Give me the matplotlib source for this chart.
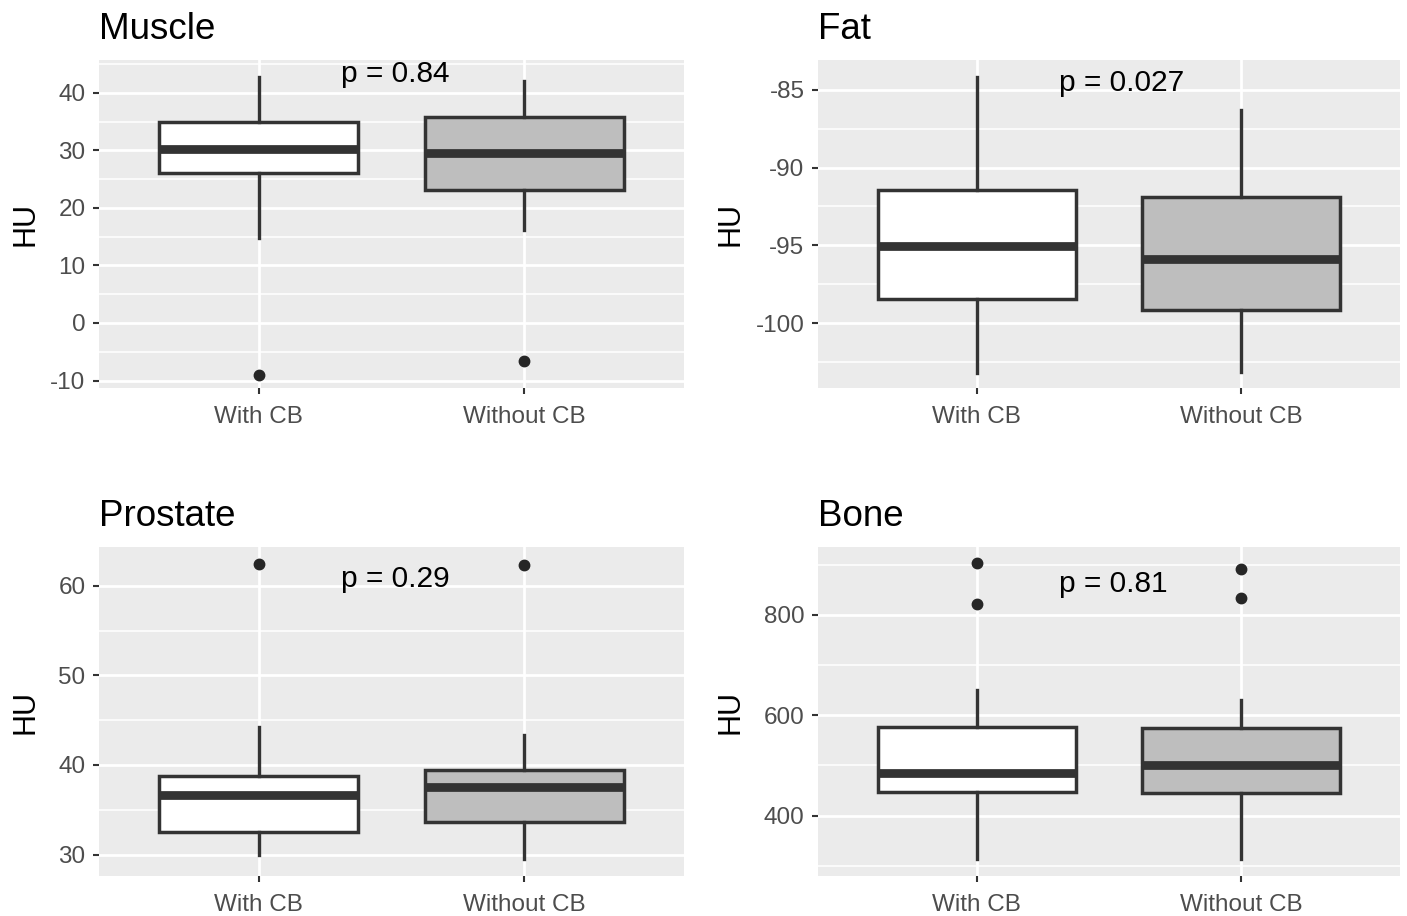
import matplotlib
matplotlib.use("Agg")
import matplotlib.pyplot as plt
from matplotlib.ticker import MultipleLocator

plt.rcParams["font.family"] = ["Liberation Sans", "DejaVu Sans"]
plt.rcParams["axes.unicode_minus"] = False

# Groups compared in every panel
groups = ["With CB", "Without CB"]
fills = ["#FFFFFF", "#BEBEBE"]

# Panel titles and p-values from the group comparison
tissues = ["Muscle", "Fat", "Prostate", "Bone"]
p_labels = ["p = 0.84", "p = 0.027", "p = 0.29", "p = 0.81"]
p_label_y = [41.9, -85.1, 59.9, 846]

# Box-plot summaries (HU), one pair of values per tissue: [With CB, Without CB]
whisker_low = [[14.7, 16.2], [-103.2, -103.1], [29.9, 29.5], [313, 313]]
quartile_1 = [[26.0, 23.1], [-98.45, -99.15], [32.5, 33.6], [448, 445]]
median = [[30.2, 29.5], [-95.05, -95.9], [36.6, 37.5], [485, 500]]
quartile_3 = [[34.9, 35.8], [-91.45, -91.9], [38.8, 39.4], [577, 574]]
whisker_high = [[42.8, 42.1], [-84.2, -86.3], [44.2, 43.4], [650, 630]]
outliers = [[[-9.0], [-6.6]], [[], []], [[62.5], [62.3]], [[904, 821], [891, 833]]]

# Axis ranges and tick spacing
y_limits = [(-11.3, 45.7), (-104.15, -83.1), (27.6, 64.35), (279.7, 935.5)]
major_step = [10, 5, 10, 200]

W, H = 1407, 916
fig = plt.figure(figsize=(W / 100, H / 100), dpi=100)

# Panel rectangles in pixels: left, top, right, bottom
rects = [(99, 60, 684, 388), (818, 60, 1400, 388),
         (99, 547, 684, 876), (818, 547, 1400, 876)]
ylabel_x = [-0.1, -0.125, -0.1, -0.125]

dark = "#333333"
for i, name in enumerate(tissues):
    l, t, r, b = rects[i]
    ax = fig.add_axes([l / W, 1 - b / H, (r - l) / W, (b - t) / H])
    ax.set_facecolor("#EBEBEB")
    for s in ax.spines.values():
        s.set_visible(False)

    stats = []
    for g in range(2):
        stats.append(dict(label=groups[g],
                          whislo=whisker_low[i][g], q1=quartile_1[i][g],
                          med=median[i][g], q3=quartile_3[i][g],
                          whishi=whisker_high[i][g], fliers=outliers[i][g]))
    bp = ax.bxp(stats, positions=[1, 2], widths=0.75, patch_artist=True,
                showcaps=False,
                boxprops=dict(edgecolor=dark, linewidth=2.5),
                whiskerprops=dict(color=dark, linewidth=2.4),
                medianprops=dict(color=dark, linewidth=6.3, solid_capstyle="butt"),
                flierprops=dict(marker="o", markerfacecolor="#262626",
                                markeredgecolor="#262626", markersize=7.5),
                zorder=3)
    for patch, fc in zip(bp["boxes"], fills):
        patch.set_facecolor(fc)

    ax.set_xlim(0.4, 2.6)
    ax.set_ylim(*y_limits[i])
    ax.yaxis.set_major_locator(MultipleLocator(major_step[i]))
    ax.yaxis.set_minor_locator(MultipleLocator(major_step[i] / 2))
    ax.set_axisbelow(True)
    ax.grid(True, which="major", axis="both", color="white", linewidth=2.0)
    ax.grid(True, which="minor", axis="y", color="white", linewidth=1.1)
    ax.tick_params(axis="both", which="major", length=4.3, width=1.5,
                   color=dark, labelcolor="#4D4D4D", labelsize=17.5)
    ax.tick_params(axis="x", pad=8.5)
    ax.tick_params(axis="y", pad=5.5)
    ax.tick_params(which="minor", length=0)
    ax.set_xticks([1, 2])
    ax.set_xticklabels(groups)

    ax.set_ylabel("HU", fontsize=22, color="black")
    ax.yaxis.set_label_coords(ylabel_x[i], 0.5)
    ax.set_title(name, loc="left", fontsize=26.5, pad=15, color="black")
    ax.text(1.31, p_label_y[i], p_labels[i], ha="left", va="baseline",
            fontsize=21.5, color="black", zorder=4)

fig.savefig("out.png", dpi=100, facecolor="white")
